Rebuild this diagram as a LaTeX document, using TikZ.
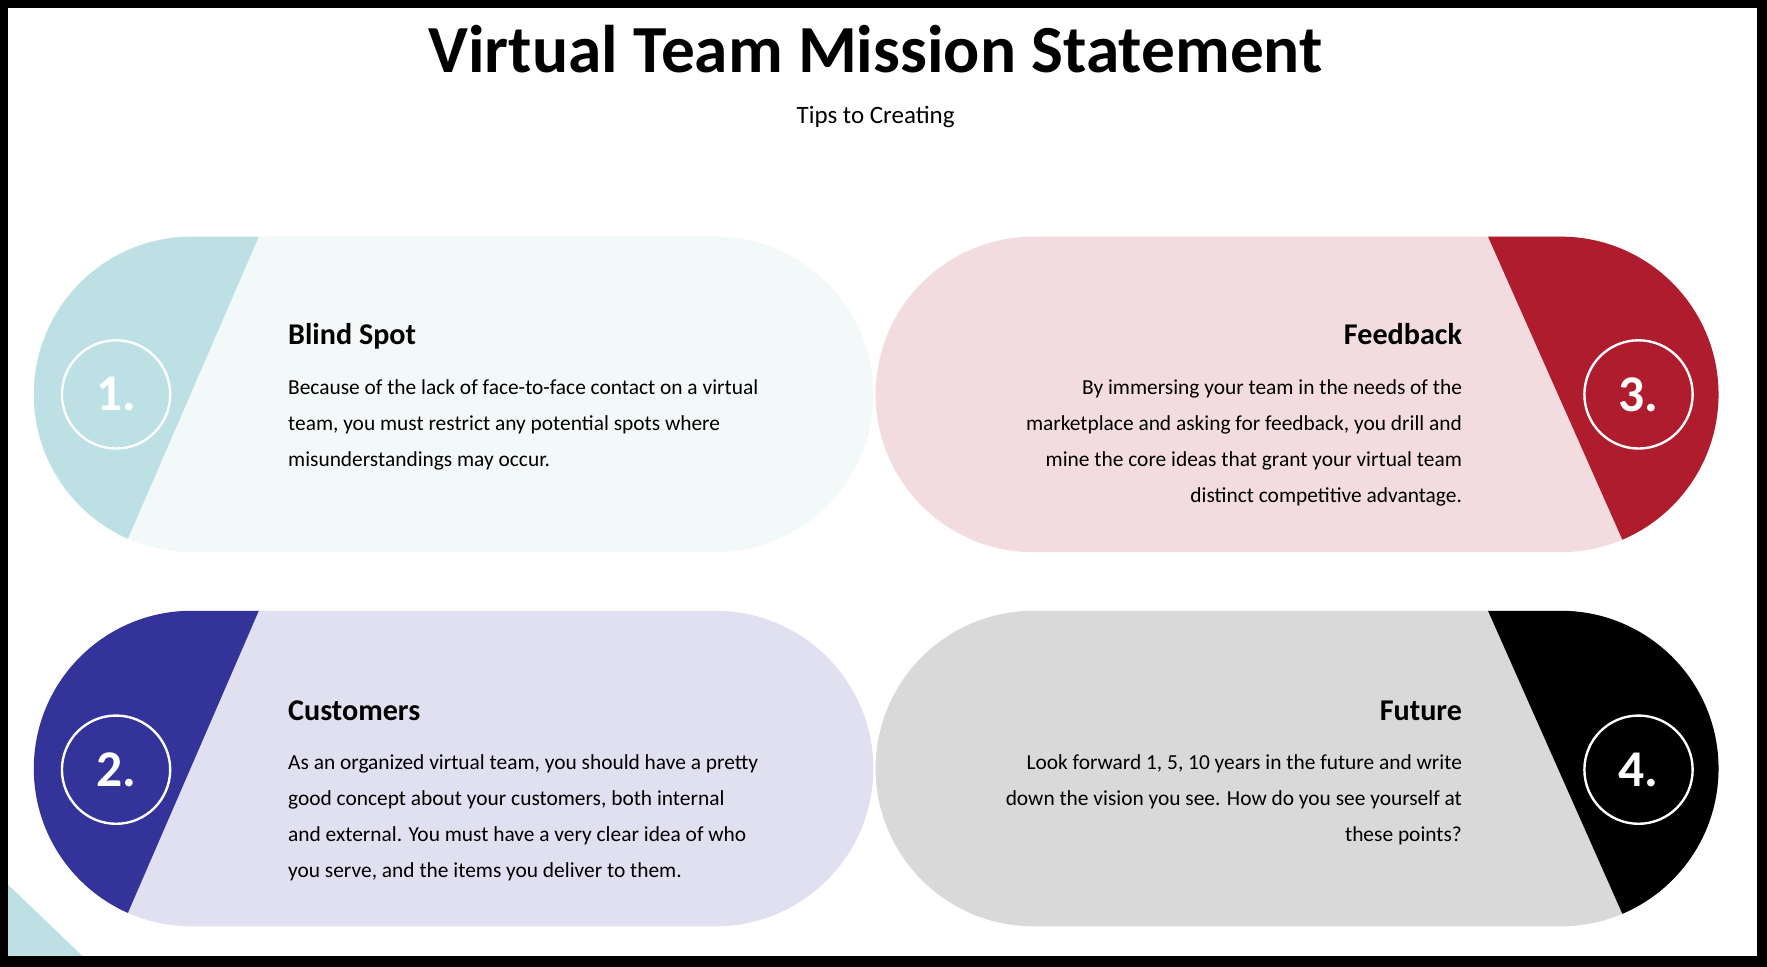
\documentclass[tikz,border=0pt]{standalone}
\usepackage{fontspec}
\setmainfont{Carlito}
\definecolor{tealL}{HTML}{BCE0E3}
\definecolor{tealBG}{HTML}{F3F8F8}
\definecolor{redD}{HTML}{AF1C2E}
\definecolor{redBG}{HTML}{F2DCDF}
\definecolor{blueD}{HTML}{333399}
\definecolor{blueBG}{HTML}{E1E0F0}
\definecolor{grayBG}{HTML}{D9D9D9}
\tikzset{
  numcirc/.style={circle, draw=white, line width=0.6pt, minimum size=0.96cm, text=white, font=\bfseries\fontsize{13}{14}\selectfont},
  head/.style={inner sep=0pt, font=\bfseries\fontsize{7.6}{9}\selectfont},
  bodyL/.style={align=left, inner sep=0pt, font=\fontsize{5.4}{9.1}\selectfont},
  bodyR/.style={align=right, inner sep=0pt, font=\fontsize{5.4}{9.1}\selectfont}
}
\newcommand{\pill}[6]{% x1, y1(top), x2, y2(bottom), bg, accent polygon
  \fill[#5, rounded corners=1.4cm] (#1,#2) rectangle (#3,#4);
  \begin{scope}
    \clip[rounded corners=1.4cm] (#1,#2) rectangle (#3,#4);
    #6
  \end{scope}}
\begin{document}
\begin{tikzpicture}[x=0.01cm, y=-0.01cm]
  \useasboundingbox (0,0) rectangle (1568,858);
  \fill[white] (0,0) rectangle (1568,858);

  % Corner triangle
  \fill[tealL] (5,783) -- (78,853) -- (5,853) -- cycle;

  % Title
  \node[font=\bfseries\fontsize{17}{20}\selectfont] (title) at (777,44) {Virtual Team Mission Statement};
  \node[font=\fontsize{6.3}{8}\selectfont] (sub) at (777,104) {Tips to Creating};

  % Pills
  \pill{30}{210}{775}{490}{tealBG}{\fill[tealL] (0,200) -- (234,200) -- (104,500) -- (0,500) -- cycle;}
  \pill{777}{210}{1525}{490}{redBG}{\fill[redD] (1316,200) -- (1540,200) -- (1540,500) -- (1449,500) -- cycle;}
  \pill{30}{542}{775}{822}{blueBG}{\fill[blueD] (0,532) -- (234,532) -- (104,832) -- (0,832) -- cycle;}
  \pill{777}{542}{1525}{822}{grayBG}{\fill[black] (1316,532) -- (1540,532) -- (1540,832) -- (1449,832) -- cycle;}

  % Numbers
  \node[numcirc] (n1) at (103,350) {1.};
  \node[numcirc] (n2) at (103,683) {2.};
  \node[numcirc] (n3) at (1454,350) {3.};
  \node[numcirc] (n4) at (1454,683) {4.};

  % Texts
  \node[head, anchor=base west] (h1) at (255,306) {Blind Spot};
  \node[bodyL, anchor=north west] (t1) at (255,336) {Because of the lack of face-to-face contact on a virtual\\ team, you must restrict any potential spots where\\ misunderstandings may occur.};
  \node[head, anchor=base west] (h2) at (255,639) {Customers};
  \node[bodyL, anchor=north west] (t2) at (255,669) {As an organized virtual team, you should have a pretty\\ good concept about your customers, both internal\\ and external. You must have a very clear idea of who\\ you serve, and the items you deliver to them.};
  \node[head, anchor=base east] (h3) at (1298,306) {Feedback};
  \node[bodyR, anchor=north east] (t3) at (1298,336) {By immersing your team in the needs of the\\ marketplace and asking for feedback, you drill and\\ mine the core ideas that grant your virtual team\\ distinct competitive advantage.};
  \node[head, anchor=base east] (h4) at (1298,639) {Future};
  \node[bodyR, anchor=north east] (t4) at (1298,669) {Look forward 1, 5, 10 years in the future and write\\ down the vision you see. How do you see yourself at\\ these points?};

  % Frame
  \draw[line width=3pt] (2,2) rectangle (1564,854);
\end{tikzpicture}
\end{document}
